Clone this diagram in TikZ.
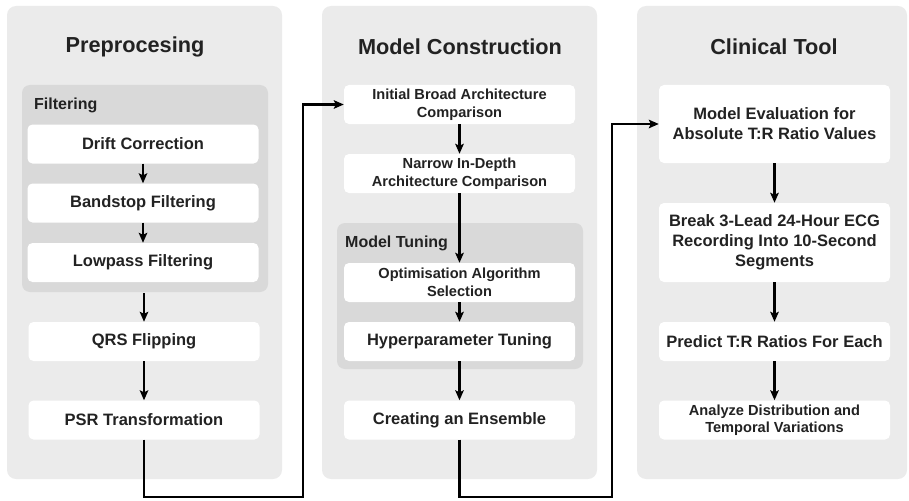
\documentclass[tikz,border=0pt]{standalone}
\usepackage{fontspec}
\setmainfont{Liberation Sans}
\usetikzlibrary{arrows.meta}
\definecolor{panelgray}{HTML}{EBEBEB}
\definecolor{subgray}{HTML}{D9D9D9}
\definecolor{txt}{HTML}{222222}
\begin{document}
\begin{tikzpicture}[x=1pt,y=-1pt,
  panel/.style={fill=panelgray,draw=none,rounded corners=9pt},
  subpanel/.style={fill=subgray,draw=none,rounded corners=8pt},
  box/.style={fill=white,draw=none,rounded corners=5pt,minimum width=231pt,minimum height=39pt,inner sep=0pt,align=center,text=txt,font=\bfseries\fontsize{16.5}{20}\selectfont},
  sbox/.style={box,font=\bfseries\fontsize{14.6}{17.5}\selectfont},
  title/.style={text=txt,font=\bfseries\fontsize{21.7}{26}\selectfont},
  sublabel/.style={anchor=west,text=txt,inner sep=0pt,font=\bfseries\fontsize{16}{19}\selectfont},
  arr/.style={draw=black,line width=2.2pt,-{Stealth[length=10pt,width=8.5pt,inset=2pt]}}
]
\useasboundingbox (0,0) rectangle (909,500);
% panels
\fill[panel] (7,6) rectangle (282,479);
\fill[panel] (322,6) rectangle (597,479);
\fill[panel] (637,6) rectangle (907,479);
\fill[subpanel] (22,85) rectangle (268,292);
\fill[subpanel] (337,223) rectangle (583,369);
% titles
\node[title] (t1) at (135,47) {Preprocesing};
\node[title] (t2) at (460,47) {Model Construction};
\node[title] (t3) at (774,47) {Clinical Tool};
\node[sublabel] (lf) at (34,105) {Filtering};
\node[sublabel] (lt) at (345,243) {Model Tuning};
% left column
\node[box] (drift) at (143,144) {Drift Correction};
\node[box] (band) at (143,203) {Bandstop Filtering};
\node[box] (low) at (143,262.5) {Lowpass Filtering};
\node[box] (qrs) at (144,341.5) {QRS Flipping};
\node[box] (psr) at (144,420) {PSR Transformation};
% middle column
\node[sbox] (init) at (459.5,104.5) {Initial Broad Architecture\\Comparison};
\node[sbox] (narrow) at (459.5,173.5) {Narrow In-Depth\\Architecture Comparison};
\node[sbox] (opt) at (459.5,282.5) {Optimisation Algorithm\\Selection};
\node[box] (hyper) at (459.5,341.5) {Hyperparameter Tuning};
\node[box] (ens) at (459.5,420) {Creating an Ensemble};
% right column
\node[box,minimum height=78pt] (eval) at (774.5,124) {Model Evaluation for\\Absolute T:R Ratio Values};
\node[box,minimum height=79pt] (brk) at (774.5,242.5) {Break 3-Lead 24-Hour ECG\\Recording Into 10-Second\\Segments};
\node[box] (pred) at (774.5,341.5) {Predict T:R Ratios For Each};
\node[sbox] (ana) at (774.5,420) {Analyze Distribution and\\Temporal Variations};
% arrows
\draw[arr] (drift.south) -- (band.north);
\draw[arr] (band.south) -- (low.north);
\coordinate (lowexit) at (144,293);
\draw[arr] (lowexit) -- (qrs.north);
\draw[arr] (qrs.south) -- (psr.north);
\draw[arr] (init.south) -- (narrow.north);
\draw[arr] (narrow.south) -- (opt.north);
\draw[arr] (opt.south) -- (hyper.north);
\draw[arr] (hyper.south) -- (ens.north);
\draw[arr] (eval.south) -- (brk.north);
\draw[arr] (brk.south) -- (pred.north);
\draw[arr] (pred.south) -- (ana.north);
\coordinate (c1) at (303,497);
\coordinate (c2) at (612,497);
\draw[arr] (psr.south) |- (c1) |- (init.west);
\draw[arr] (ens.south) |- (c2) |- (eval.west);
\end{tikzpicture}
\end{document}
